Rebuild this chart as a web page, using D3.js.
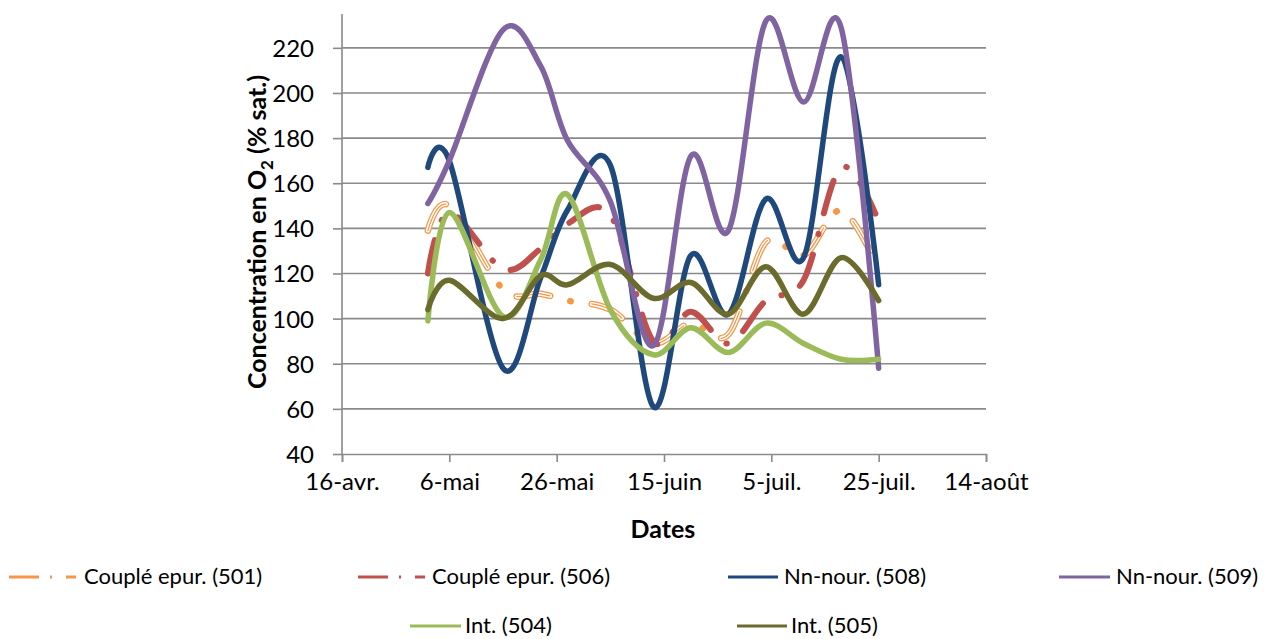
<!DOCTYPE html>
<html>
<head>
<meta charset="utf-8">
<script src="https://cdn.jsdelivr.net/npm/d3@7"></script>
<style>
  body { margin: 0; background: #fff; }
  text { font-family: Lato, "Open Sans", sans-serif; fill: #000; }
</style>
</head>
<body>
<div id="chart"></div>
<script>
// sample dates (day-month, year is arbitrary)
var dates = ["2012-05-02", "2012-05-06", "2012-05-16", "2012-05-23", "2012-05-28", "2012-06-05",
  "2012-06-13", "2012-06-20", "2012-06-27", "2012-07-04", "2012-07-11", "2012-07-18", "2012-07-25"];

// O2 saturation (%) per station
var couple501 = [139, 150, 113, 111, 108, 104, 89, 98, 93, 134, 128, 148, 122];
var couple506 = [120, 147, 122, 131, 142, 146, 90, 103, 89, 108, 117, 167, 143];
var nnNour508 = [167, 170, 78, 118, 148, 168, 61, 128, 102, 153, 127, 216, 115];
var nnNour509 = [151, 170, 228, 212, 179, 152, 88, 172, 139, 232, 196, 229, 78];
var int504 = [99, 147, 101, 126, 155, 104, 84, 96, 85, 98, 89, 82, 82];
var int505 = [104, 117, 100, 119, 115, 124, 109, 116, 102, 123, 102, 127, 108];

var seriesNames = ["Couplé epur. (501)", "Couplé epur. (506)", "Nn-nour. (508)", "Nn-nour. (509)", "Int. (504)", "Int. (505)"];

// axis ticks
var xTickDates = ["2012-04-16", "2012-05-06", "2012-05-26", "2012-06-15", "2012-07-05", "2012-07-25", "2012-08-14"];
var xTickLabels = ["16-avr.", "6-mai", "26-mai", "15-juin", "5-juil.", "25-juil.", "14-août"];
var yTicks = [40, 60, 80, 100, 120, 140, 160, 180, 200, 220];

var W = 1266, H = 639;
var margin = {top: 14, right: 280, bottom: 185, left: 342};
var width = W - margin.left - margin.right,
    height = H - margin.top - margin.bottom;

var parseDate = d3.timeParse("%Y-%m-%d");

var x = d3.scaleTime()
  .domain([parseDate(xTickDates[0]), parseDate(xTickDates[xTickDates.length - 1])])
  .range([0, width]);
var y = d3.scaleLinear().domain([40, 235]).range([height, 0]);

var svg = d3.select("#chart").append("svg")
  .attr("width", W).attr("height", H);
var g = svg.append("g")
  .attr("transform", "translate(" + margin.left + "," + margin.top + ")");

var gridColor = "#8a8a8a";

// gridlines
g.append("g").selectAll("line")
  .data(yTicks.slice(1))
  .enter().append("line")
  .attr("x1", 0).attr("x2", width)
  .attr("y1", function(d) { return y(d); })
  .attr("y2", function(d) { return y(d); })
  .attr("stroke", gridColor).attr("stroke-width", 1.6);

// y axis
var yAxis = d3.axisLeft(y).tickValues(yTicks).tickSize(9).tickPadding(19);
var gy = g.append("g").call(yAxis);
gy.select(".domain").remove();
gy.selectAll(".tick line").attr("stroke", gridColor).attr("stroke-width", 1.6);
gy.selectAll(".tick text").style("font-size", "24px").attr("dy", "0.35em");
g.append("line").attr("x1", 0).attr("x2", 0).attr("y1", 0).attr("y2", height)
  .attr("stroke", gridColor).attr("stroke-width", 1.6);

// x axis
var xAxis = d3.axisBottom(x)
  .tickValues(xTickDates.map(parseDate))
  .tickFormat(function(d, i) { return xTickLabels[i]; })
  .tickSize(8).tickPadding(11);
var gx = g.append("g").attr("transform", "translate(0," + height + ")").call(xAxis);
gx.select(".domain").attr("stroke", gridColor).attr("stroke-width", 1.6);
gx.selectAll(".tick line").attr("stroke", gridColor).attr("stroke-width", 1.6);
gx.selectAll(".tick text").style("font-size", "24px");

// axis titles
svg.append("text")
  .attr("x", 663).attr("y", 538)
  .attr("text-anchor", "middle")
  .style("font-size", "25px").style("font-weight", "bold")
  .text("Dates");

var yt = svg.append("text")
  .attr("transform", "translate(266,232) rotate(-90)")
  .attr("text-anchor", "middle")
  .style("font-size", "25px").style("font-weight", "bold");
yt.append("tspan").text("Concentration en O");
yt.append("tspan").attr("dy", 7).style("font-size", "17px").text("2");
yt.append("tspan").attr("dy", -7).text(" (% sat.)");

// lines
var line = d3.line()
  .x(function(d, i) { return x(parseDate(dates[i])); })
  .y(function(d) { return y(d); })
  .curve(d3.curveCardinal.tension(0));

var dashDot = "34 21 0.5 21";

function addPath(data, color, w, dash) {
  return g.append("path")
    .attr("d", line(data))
    .attr("fill", "none")
    .attr("stroke", color)
    .attr("stroke-width", w)
    .attr("stroke-linecap", "round")
    .attr("stroke-linejoin", "round")
    .attr("stroke-dasharray", dash || null);
}

// 501: compound (hollow) dash-dot orange
addPath(couple501, "#f79646", 6.5, dashDot);
addPath(couple501, "#ffffff", 4, "34 42.5");
addPath(couple501, "#f79646", 1.2, "34 42.5");
// 506: red dash-dot
addPath(couple506, "#c0504d", 6, dashDot);
// solid series
addPath(nnNour508, "#1f497d", 5.5);
addPath(nnNour509, "#8064a2", 5.5);
addPath(int504, "#9bbb59", 5.5);
addPath(int505, "#6b6b2e", 5.5);

// legend
var legendItems = [
  {name: seriesNames[0], color: "#f79646", x0: 9, x1: 78, tx: 84, ty: 577, dashed: true},
  {name: seriesNames[1], color: "#c0504d", x0: 358, x1: 426, tx: 432, ty: 577, dashed: true},
  {name: seriesNames[2], color: "#1f497d", x0: 728, x1: 778, tx: 784, ty: 577},
  {name: seriesNames[3], color: "#8064a2", x0: 1059, x1: 1110, tx: 1116, ty: 577},
  {name: seriesNames[4], color: "#9bbb59", x0: 410, x1: 461, tx: 465, ty: 626},
  {name: seriesNames[5], color: "#6b6b2e", x0: 737, x1: 787, tx: 791, ty: 626}
];
var lg = svg.append("g");
legendItems.forEach(function(it) {
  lg.append("line")
    .attr("x1", it.x0).attr("x2", it.x1)
    .attr("y1", it.ty).attr("y2", it.ty)
    .attr("stroke", it.color).attr("stroke-width", 3)
    .attr("stroke-dasharray", it.dashed ? "30 11 2 14 10" : null);
  lg.append("text")
    .attr("x", it.tx).attr("y", it.ty).attr("dy", "0.33em")
    .style("font-size", "22px")
    .text(it.name);
});
</script>
</body>
</html>
